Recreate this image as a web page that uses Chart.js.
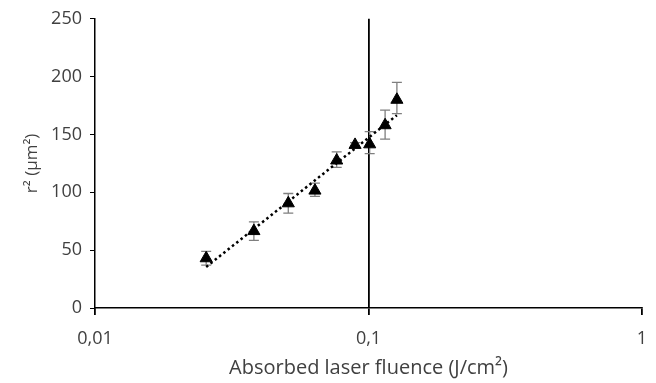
<!DOCTYPE html>
<html>
<head>
<meta charset="utf-8">
<script src="https://cdn.jsdelivr.net/npm/chart.js@4/dist/chart.umd.min.js"></script>
<style>
  html, body { margin: 0; padding: 0; background: #fff; }
  #wrap { width: 656px; height: 383px; }
</style>
</head>
<body>
<div id="wrap"><canvas id="c" width="656" height="383"></canvas></div>
<script>
// fluence (J/cm²), r² (µm²) and error bar half-widths
var fluence = [0.0255, 0.0381, 0.0509, 0.0637, 0.0765, 0.0893, 0.101, 0.115, 0.127];
var rSquared = [43, 66.5, 90.5, 101.5, 127.5, 141, 141.5, 158, 180];
var errUp = [6, 8, 8.5, 6.5, 7.5, 2, 11, 13, 15];
var errDown = [6, 8, 8.5, 5, 6, 2, 8, 12, 12];
var trendX = [0.0255, 0.127];
var trendY = [35.5, 166.7];
var xTicks = [0.01, 0.1, 1];

var points = fluence.map(function (f, i) {
    return { x: f, y: rSquared[i], up: errUp[i], down: errDown[i] };
});
var trend = trendX.map(function (f, i) { return { x: f, y: trendY[i] }; });

var fontFamily = "'Open Sans', sans-serif";
var textColor = '#404040';

var errorBars = {
    id: 'errorBars',
    beforeDatasetsDraw: function (chart) {
        var ctx = chart.ctx;
        var xs = chart.scales.x, ys = chart.scales.y;
        ctx.save();
        ctx.strokeStyle = '#7f7f7f';
        ctx.lineWidth = 1.3;
        points.forEach(function (p) {
            var px = xs.getPixelForValue(p.x);
            var top = ys.getPixelForValue(p.y + p.up);
            var bot = ys.getPixelForValue(p.y - p.down);
            ctx.beginPath();
            ctx.moveTo(px, top); ctx.lineTo(px, bot);
            ctx.moveTo(px - 5, top); ctx.lineTo(px + 5, top);
            ctx.moveTo(px - 5, bot); ctx.lineTo(px + 5, bot);
            ctx.stroke();
        });
        ctx.restore();
    }
};

var chart = new Chart(document.getElementById('c').getContext('2d'), {
    type: 'scatter',
    data: {
        datasets: [{
            label: 'r²',
            data: points,
            pointStyle: 'triangle',
            pointRadius: 7,
            backgroundColor: '#000',
            borderColor: '#000',
            borderWidth: 1,
            order: 2
        },
        {
            label: 'trend',
            type: 'line',
            data: trend,
            borderColor: '#000',
            borderWidth: 2.5,
            borderDash: [2.5, 3],
            pointRadius: 0,
            fill: false,
            order: 1
        }]
    },
    options: {
        responsive: false,
        animation: false,
        layout: { padding: { top: 17, right: 14, left: 0, bottom: 0 } },
        plugins: { legend: { display: false }, tooltip: { enabled: false } },
        scales: {
            x: {
                type: 'logarithmic',
                min: 0.01,
                max: 1,
                afterBuildTicks: function (scale) {
                    scale.ticks = xTicks.map(function (v) { return { value: v }; });
                },
                afterFit: function (scale) {
                    scale.height = 75;
                    scale.paddingLeft = 0;
                    scale.paddingRight = 0;
                },
                border: { color: '#000', width: 1.5 },
                grid: {
                    color: function (c) { return c.tick && c.tick.value === 0.1 ? '#000' : 'rgba(0,0,0,0)'; },
                    lineWidth: 1.8,
                    tickColor: '#000',
                    tickLength: 7,
                    drawTicks: true
                },
                ticks: {
                    color: textColor,
                    font: { family: fontFamily, size: 18 },
                    padding: 13,
                    maxRotation: 0,
                    callback: function (v) { return String(v).replace('.', ','); }
                },
                title: {
                    display: true,
                    text: 'Absorbed laser fluence (J/cm²)',
                    color: textColor,
                    font: { family: fontFamily, size: 20 },
                    padding: { top: 4, bottom: 3 }
                }
            },
            y: {
                min: 0,
                max: 250,
                afterFit: function (scale) { scale.width = 95; },
                border: { color: '#000', width: 1.5 },
                grid: {
                    drawOnChartArea: false,
                    tickColor: '#000',
                    tickLength: 5
                },
                ticks: {
                    stepSize: 50,
                    color: textColor,
                    font: { family: fontFamily, size: 18 },
                    padding: 8
                },
                title: {
                    display: true,
                    text: 'r² (µm²)',
                    color: textColor,
                    font: { family: fontFamily, size: 17 },
                    padding: { top: 22, bottom: 0 }
                }
            }
        }
    },
    plugins: [errorBars]
});
</script>
</body>
</html>
